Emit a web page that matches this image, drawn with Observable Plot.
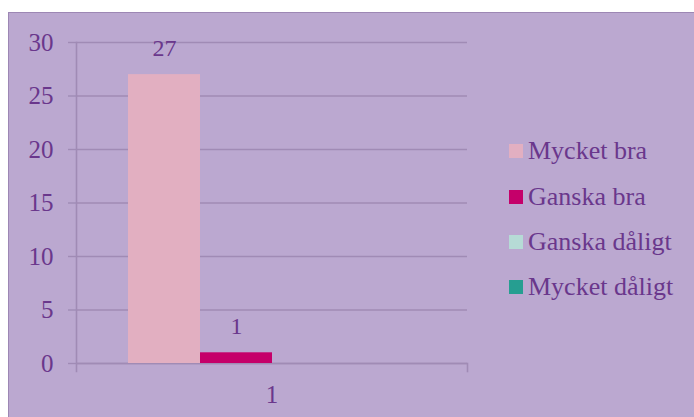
<!DOCTYPE html>
<html>
<head>
<meta charset="utf-8">
<script src="https://cdn.jsdelivr.net/npm/d3@7"></script>
<script src="https://cdn.jsdelivr.net/npm/@observablehq/plot@0.6"></script>
<style>
  html, body { margin: 0; padding: 0; background: #ffffff; width: 694px; height: 417px; overflow: hidden; }
  #wrap { position: relative; width: 694px; height: 417px; font-family: "Liberation Serif", "Times New Roman", serif; }
  #bg { position: absolute; left: 8px; top: 12px; width: 700px; height: 420px; background: #bba8d0; border-left: 1.5px solid #9d87b4; border-top: 1.5px solid #9d87b4; box-sizing: border-box; }
  #chart { position: absolute; left: 0; top: 0; }
  #legend { position: absolute; left: 509px; top: 0; }
  .item { position: absolute; left: 0; display: flex; align-items: center; white-space: nowrap; color: #6a378c; font-size: 26px; line-height: 1; }
  .sw { width: 14px; height: 14px; margin-right: 5px; flex: none; }
</style>
</head>
<body>
<div id="wrap">
  <div id="bg"></div>
  <div id="chart"></div>
  <div id="legend"></div>
</div>
<script>
const categories = ["1"];
const seriesNames = ["Mycket bra", "Ganska bra", "Ganska dåligt", "Mycket dåligt"];
const seriesValues = [27, 1, 0, 0];
const seriesColors = ["#e2afc1", "#c5006a", "#b6dbd6", "#269e91"];
const yTicks = [0, 5, 10, 15, 20, 25, 30];

const textColor = "#6a378c";
const gridColor = "#a08bb5";

const data = seriesNames.map((s, i) => ({cat: categories[0], series: s, value: seriesValues[i]}));

const chart = Plot.plot({
  width: 694,
  height: 417,
  marginLeft: 76,
  marginRight: 227,
  marginTop: 42,
  marginBottom: 54,
  style: {background: "transparent", fontFamily: "'Liberation Serif', 'Times New Roman', serif"},
  fx: {domain: categories, padding: 0, label: null},
  x: {domain: seriesNames, paddingInner: 0, paddingOuter: 0.715, axis: null},
  y: {domain: [0, 30], label: null},
  color: {domain: seriesNames, range: seriesColors},
  marks: [
    Plot.gridY(yTicks, {stroke: gridColor, strokeOpacity: 1, strokeWidth: 1.4}),
    Plot.axisY(yTicks, {tickSize: 8, tickPadding: 15, fontSize: 25, fill: textColor, stroke: gridColor, strokeWidth: 1.4, label: null}),
    Plot.frame({anchor: "left", stroke: gridColor, strokeWidth: 1.6, insetBottom: -8}),
    Plot.frame({anchor: "right", stroke: gridColor, strokeWidth: 1.6, insetTop: 321, insetBottom: -8}),
    Plot.ruleY([0], {stroke: gridColor, strokeWidth: 1.6}),
    Plot.barY(data, {fx: "cat", x: "series", y: "value", fill: "series"}),
    Plot.text(data.filter(d => d.value > 0), {fx: "cat", x: "series", y: "value", text: d => String(d.value), dy: -26, lineAnchor: "middle", fontSize: 24, fill: textColor}),
    Plot.axisFx({anchor: "bottom", tickSize: 0, tickPadding: 22, fontSize: 25, fill: textColor, label: null})
  ]
});
document.getElementById("chart").appendChild(chart);

const legendRows = [151, 197, 242, 287];
const legend = document.getElementById("legend");
seriesNames.forEach((s, i) => {
  const item = document.createElement("div");
  item.className = "item";
  item.style.top = (legendRows[i] - 13) + "px";
  item.style.height = "26px";
  const sw = document.createElement("span");
  sw.className = "sw";
  sw.style.background = seriesColors[i];
  const t = document.createElement("span");
  t.textContent = s;
  item.appendChild(sw);
  item.appendChild(t);
  legend.appendChild(item);
});
</script>
</body>
</html>
